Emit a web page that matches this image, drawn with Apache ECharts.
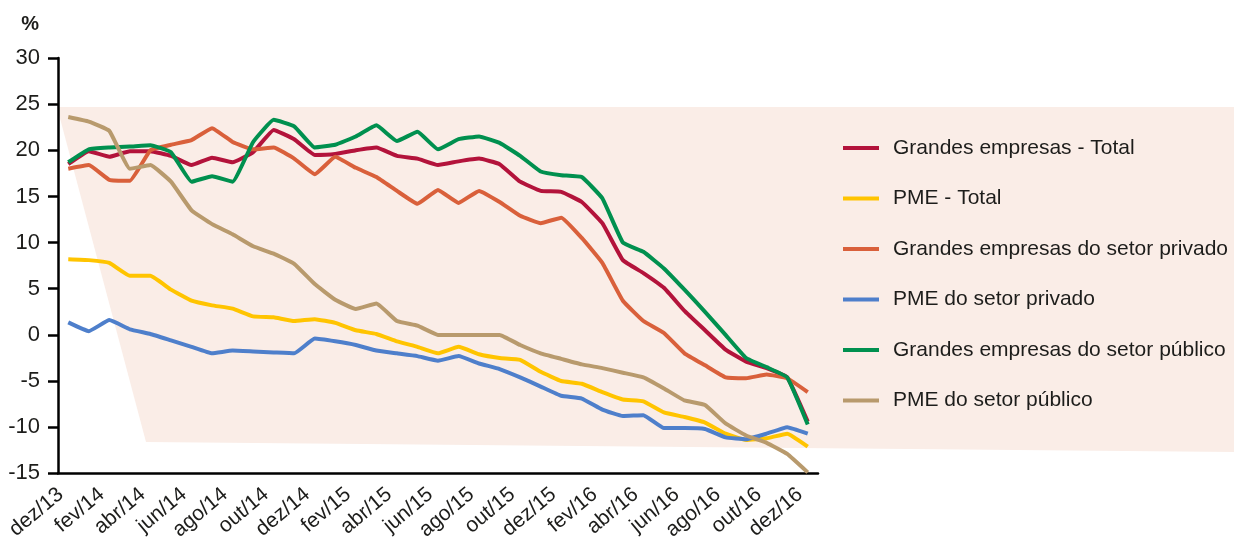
<!DOCTYPE html>
<html>
<head>
<meta charset="utf-8">
<script src="https://cdn.jsdelivr.net/npm/echarts@6/dist/echarts.min.js"></script>
<style>
  html, body { margin: 0; padding: 0; background: #ffffff; }
  #chart { width: 1234px; height: 543px; }
</style>
</head>
<body>
<div id="chart"></div>
<script>
// Monthly categories, Dec 2013 to Dec 2016 (labels shown every second month)
const months = [
  'dez/13',
  'jan/14','fev/14','mar/14','abr/14','mai/14','jun/14','jul/14','ago/14','set/14','out/14','nov/14','dez/14',
  'jan/15','fev/15','mar/15','abr/15','mai/15','jun/15','jul/15','ago/15','set/15','out/15','nov/15','dez/15',
  'jan/16','fev/16','mar/16','abr/16','mai/16','jun/16','jul/16','ago/16','set/16','out/16','nov/16','dez/16'
];

// Annual rate of change, %
const grandesTotal = [
  18.5, 19.9, 19.3, 19.9, 19.9, 19.4, 18.4, 19.2, 18.7, 19.8, 22.2, 21.2, 19.5,
  19.6, 20.0, 20.3, 19.4, 19.1, 18.4, 18.8, 19.1, 18.5, 16.6, 15.6, 15.5,
  14.4, 12.1, 8.1, 6.7, 5.1, 2.6, 0.5, -1.6, -2.9, -3.6, -4.6, -9.4
];
const pmeTotal = [
  8.2, 8.1, 7.8, 6.4, 6.4, 4.9, 3.7, 3.2, 2.85, 2.0, 1.9, 1.5, 1.7,
  1.3, 0.5, 0.1, -0.7, -1.3, -2.0, -1.3, -2.1, -2.5, -2.7, -4.0, -5.0,
  -5.3, -6.2, -7.0, -7.2, -8.4, -8.9, -9.5, -10.7, -11.4, -11.2, -10.7, -12.1
];
const grandesPrivado = [
  18.0, 18.4, 16.8, 16.7, 20.0, 20.6, 21.1, 22.4, 20.9, 20.1, 20.3, 19.1, 17.4,
  19.3, 18.1, 17.1, 15.6, 14.2, 15.7, 14.3, 15.6, 14.4, 12.9, 12.1, 12.7,
  10.5, 7.8, 3.7, 1.5, 0.2, -2.0, -3.3, -4.6, -4.7, -4.3, -4.7, -6.2
];
const pmePrivado = [
  1.35, 0.4, 1.6, 0.6, 0.1, -0.6, -1.3, -2.0, -1.7, -1.8, -1.9, -2.0, -0.4,
  -0.7, -1.1, -1.7, -2.0, -2.3, -2.8, -2.3, -3.1, -3.7, -4.6, -5.6, -6.6,
  -6.9, -8.1, -8.8, -8.7, -10.1, -10.1, -10.2, -11.1, -11.3, -10.7, -10.0, -10.7
];
const grandesPublico = [
  18.7, 20.1, 20.3, 20.4, 20.55, 19.8, 16.6, 17.2, 16.6, 20.9, 23.3, 22.6, 20.3,
  20.6, 21.5, 22.7, 21.0, 22.0, 20.1, 21.2, 21.5, 20.8, 19.4, 17.7, 17.3,
  17.1, 14.8, 10.0, 9.0, 7.2, 4.9, 2.5, 0.0, -2.5, -3.5, -4.6, -9.7
];
const pmePublico = [
  23.6, 23.1, 22.1, 18.0, 18.4, 16.6, 13.5, 12.0, 10.9, 9.6, 8.8, 7.7, 5.5,
  3.8, 2.8, 3.4, 1.5, 1.0, 0.0, 0.0, 0.0, 0.0, -1.1, -2.0, -2.6,
  -3.2, -3.6, -4.1, -4.6, -5.8, -7.1, -7.6, -9.6, -10.9, -11.7, -12.9, -14.9
];

const yTicks = { min: -15, max: 30, step: 5 };

const seriesDefs = [
  { name: 'Grandes empresas - Total', data: grandesTotal, color: '#B3133B' },
  { name: 'PME - Total', data: pmeTotal, color: '#FFC400' },
  { name: 'Grandes empresas do setor privado', data: grandesPrivado, color: '#D9603B' },
  { name: 'PME do setor privado', data: pmePrivado, color: '#4E7FCB' },
  { name: 'Grandes empresas do setor público', data: grandesPublico, color: '#00904F' },
  { name: 'PME do setor público', data: pmePublico, color: '#B89A6D' }
];

const FONT = '"Liberation Sans", Arial, sans-serif';
const INK = '#1d1d1b';

const chart = echarts.init(document.getElementById('chart'), null, { renderer: 'canvas' });

chart.setOption({
  animation: false,
  backgroundColor: '#ffffff',
  textStyle: { fontFamily: FONT },
  // pale band behind the series and the legend
  graphic: [{
    type: 'polygon',
    z: -10,
    silent: true,
    shape: { points: [[57, 107], [1234, 107], [1234, 452], [146, 442]] },
    style: { fill: '#FAEDE7' }
  }],
  grid: { left: 58, right: 416, top: 58, bottom: 66, containLabel: false },
  legend: {
    orient: 'vertical',
    left: 843,
    top: 137,
    icon: 'rect',
    itemWidth: 36,
    itemHeight: 4,
    itemGap: 28.5,
    padding: 0,
    textStyle: { fontFamily: FONT, fontSize: 21, color: INK, lineHeight: 22, padding: [0, 0, 0, 9] },
    data: seriesDefs.map(s => s.name)
  },
  xAxis: {
    type: 'category',
    data: months,
    boundaryGap: true,
    axisLine: { onZero: false, lineStyle: { color: '#000', width: 2.5 } },
    axisTick: { interval: 1, length: 10, lineStyle: { color: '#000', width: 2.5 } },
    axisLabel: {
      interval: 1,
      rotate: 40,
      margin: 12,
      padding: [0, 10, 0, 0],
      fontFamily: FONT,
      fontSize: 21,
      color: INK
    },
    splitLine: { show: false }
  },
  yAxis: {
    type: 'value',
    min: yTicks.min,
    max: yTicks.max,
    interval: yTicks.step,
    name: '%',
    nameLocation: 'end',
    nameGap: 24,
    nameTextStyle: { fontFamily: FONT, fontSize: 20, fontWeight: 'bold', color: INK, align: 'right', padding: [0, 19, 0, 0] },
    axisLine: { show: true, lineStyle: { color: '#000', width: 2.5 } },
    axisTick: { show: true, length: 10, lineStyle: { color: '#000', width: 2.5 } },
    axisLabel: { margin: 18, fontFamily: FONT, fontSize: 22, color: INK },
    splitLine: { show: false }
  },
  series: seriesDefs.map(s => ({
    name: s.name,
    type: 'line',
    data: s.data,
    color: s.color,
    showSymbol: false,
    symbol: 'none',
    smooth: 0.1,
    lineStyle: { width: 4, color: s.color, join: 'round' }
  }))
});
</script>
</body>
</html>
